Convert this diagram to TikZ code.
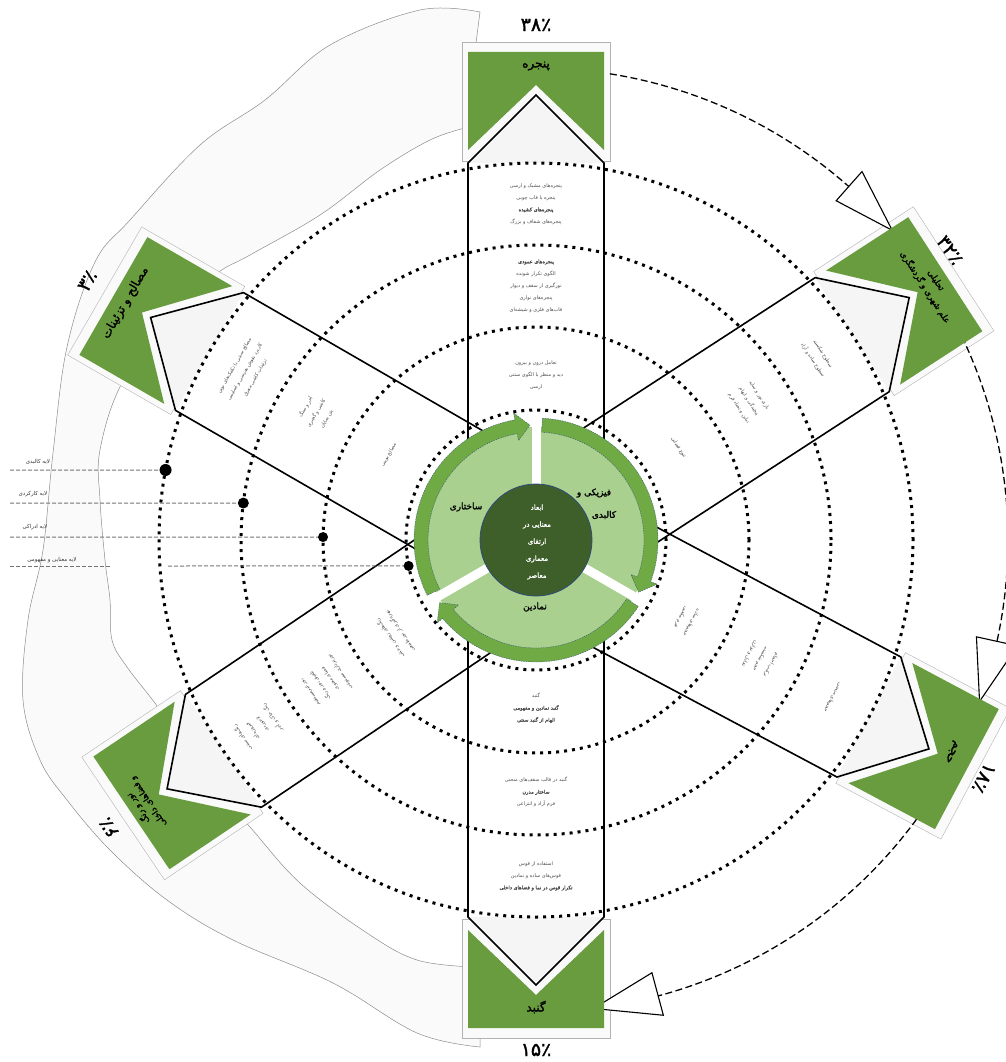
\documentclass[tikz,border=0pt]{standalone}
\usepackage{fontspec}
\newfontfamily\arabicfont[Script=Arabic]{DejaVu Sans}
\newfontfamily\arabicbold[Script=Arabic,FakeBold=1.6]{DejaVu Sans}
\TeXXeTstate=1
\newcommand\fa[1]{{\arabicfont\beginR #1\endR}}
\newcommand\fb[1]{{\arabicbold\beginR #1\endR}}
\usetikzlibrary{calc}
\definecolor{boxgreen}{HTML}{699B3F}
\definecolor{ringdark}{HTML}{6FAA45}
\definecolor{ringlight}{HTML}{A9D08E}
\definecolor{coregreen}{HTML}{3E5F2A}
\definecolor{bandgray}{HTML}{FAFAFA}
\definecolor{chevgray}{HTML}{F5F5F5}
\definecolor{navyline}{HTML}{2F4A7A}
\newcommand\segnode[5]{\node[segtext,rotate=#3] (#1) at ($(C)+(#2:#4)$) {#5};}
\begin{document}
\begin{tikzpicture}[x=1pt,y=1pt,
  armline/.style={line width=1.6pt,line join=miter},
  dotcirc/.style={line width=3pt,dash pattern=on 3pt off 5pt},
  bigdash/.style={line width=1.3pt,dash pattern=on 7pt off 3.5pt},
  hollowtip/.style={fill=white,draw=black,line width=1.1pt,line join=miter},
  backframe/.style={fill=bandgray,draw=black!30,line width=0.4pt},
  chev/.style={fill=chevgray},
  greenbox/.style={fill=boxgreen},
  segtext/.style={font=\arabicfont\fontsize{5}{12}\selectfont,text=black!70,align=center,inner sep=0pt},
  boxlabel/.style={font=\arabicbold\fontsize{12}{15}\selectfont,align=center,inner sep=0pt},
  pct/.style={font=\arabicbold\fontsize{19}{20}\selectfont,inner sep=0pt},
  ringlabel/.style={font=\arabicbold\fontsize{9}{11}\selectfont,inner sep=0pt},
  legendtext/.style={font=\arabicfont\fontsize{5.5}{7}\selectfont,inner sep=0pt,text=black!80},
  legendline/.style={black!55,line width=1pt,dash pattern=on 4pt off 2pt},
  blob/.style={fill=bandgray,draw=black!45,line width=0.5pt},
]
\useasboundingbox (0,0) rectangle (1005,-1062);
\coordinate (C) at (536,-540);

% light contour band on the left
\filldraw[blob] plot[smooth,tension=0.6] coordinates {(480,-12) (420,-10) (330,-45) (265,-100) (200,-145) (130,-220) (95,-262) (67,-347) (53,-453) (43,-550) (28,-620) (23,-700) (40,-760) (67,-800) (110,-850) (167,-900) (233,-940) (333,-983) (417,-1033) (480,-1047)}
  -- (480,-967) -- plot[smooth,tension=0.6] coordinates {(473,-967) (417,-960) (367,-933) (300,-883) (250,-827) (200,-770) (160,-710) (127,-667) (112,-640) (110,-600) (105,-560) (100,-500) (100,-450) (122,-383) (170,-320) (215,-275) (250,-255) (320,-215) (380,-170) (430,-140) (465,-128)} -- cycle;

% frames behind the green boxes and chevron fills
\foreach \a in {90,33,-28,270,214,150}{
  \begin{scope}[shift={(C)},rotate=\a]
    \filldraw[backframe] (379,-74) rectangle (498,74);
    \fill[chev] (377,-68) -- (445,0) -- (377,68) -- cycle;
  \end{scope}
}

% outer dashed cycle with hollow arrowheads
\draw[bigdash] ($(C)+(81:472)$) arc[start angle=81,end angle=48.5,radius=472];
\filldraw[hollowtip] ($(C)+(48.5:453)$) -- ($(C)+(48.5:492)$) -- ($(C)+(41:472)$) -- cycle;
\draw[bigdash] ($(C)+(25.5:472)$) arc[start angle=25.5,end angle=-12.4,radius=472];
\filldraw[hollowtip] ($(C)+(-12.4:451)$) -- ($(C)+(-12.4:493)$) -- ($(C)+(-20:472)$) -- cycle;
\draw[bigdash] ($(C)+(-35:472)$) arc[start angle=-35,end angle=-75,radius=472];
\filldraw[hollowtip] ($(C)+(-75:448)$) -- ($(C)+(-75:492)$) -- ($(C)+(-83:472)$) -- cycle;

% dotted circles
\foreach \r in {130,213,295,377}{\draw[dotcirc] (C) circle[radius=\r];}

% arms and green boxes
\foreach \a in {90,33,-28,270,214,150}{
  \begin{scope}[shift={(C)},rotate=\a]
    \draw[armline] (96,-68) -- (377,-68) -- (445,0) -- (377,68) -- (96,68);
    \fill[greenbox] (390,-68) -- (488,-68) -- (488,68) -- (390,68) -- (455,0) -- cycle;
  \end{scope}
}

% central ring
\fill[ringlight] (C) circle[radius=113];
\foreach \g in {90,-30,210}{\draw[white,line width=9pt] (C) -- ++(\g:126);}
\foreach \s/\e in {207/100,87/-20,-33/-140}{
  \pgfmathsetmacro\tip{\e-7}
  \filldraw[fill=ringdark,draw=navyline,line width=0.3pt,dash pattern=on 1.5pt off 1pt]
    ($(C)+(\s:122)$) arc[start angle=\s,end angle=\e,radius=122]
    -- ($(C)+(\e:129)$) -- ($(C)+(\tip:115)$) -- ($(C)+(\e:101)$) -- ($(C)+(\e:108)$)
    arc[start angle=\e,end angle=\s,radius=108] -- cycle;
}
\filldraw[fill=coregreen,draw=navyline,line width=0.8pt] (C) circle[radius=56];
\node[font=\arabicbold\fontsize{7}{17}\selectfont,text=white,align=center,inner sep=0pt] (core) at (537,-542)
  {\fb{ابعاد}\\\fb{معنایی در}\\\fb{ارتقای}\\\fb{معماری}\\\fb{معاصر}};
\node[ringlabel] (rl1) at (594,-493) {\fb{فیزیکی و}};
\node[ringlabel] (rl2) at (604,-515) {\fb{کالبدی}};
\node[ringlabel] (rl3) at (466,-507) {\fb{ساختاری}};
\node[ringlabel] (rl4) at (535,-607) {\fb{نمادین}};

% legend on the left
\coordinate (d1) at ($(C)+(169.3:377)$);
\coordinate (d2) at ($(C)+(172.8:295)$);
\coordinate (d3) at ($(C)+(179.2:213)$);
\coordinate (d4) at ($(C)+(191.5:130)$);
\coordinate (s1) at (10,-470);
\coordinate (s2) at (10,-503);
\coordinate (s3) at (10,-537);
\coordinate (s4) at (10,-566);
\coordinate (s4a) at (110,-566);
\coordinate (s4b) at (168,-566);
\draw[legendline] (s1) -- (d1);
\draw[legendline] (s2) -- (d2);
\draw[legendline] (s3) -- (d3);
\draw[legendline] (s4) -- (s4a);
\draw[legendline] (s4b) -- (d4);
\fill (d1) circle[radius=6];
\fill (d2) circle[radius=5.5];
\fill (d3) circle[radius=5];
\fill (d4) circle[radius=5];
\node[legendtext] (lg1) at (38,-462) {\fa{لایه کالبدی}};
\node[legendtext] (lg2) at (33,-494) {\fa{لایه کارکردی}};
\node[legendtext] (lg3) at (35,-527) {\fa{لایه ادراکی}};
\node[legendtext] (lg4) at (52,-560) {\fa{لایه معنایی و مفهومی}};

% green box labels
\node[boxlabel,rotate=0] (bx1) at ($(C)+(90:474)$) {\fb{پنجره}};
\node[boxlabel,rotate=-57,font=\arabicbold\fontsize{8.5}{13}\selectfont] (bx2) at ($(C)+(33:470)$) {\fb{تحلیلی}\\\fb{علم شهری و گردشگری}};
\node[boxlabel,rotate=-118] (bx3) at ($(C)+(-27:466)$) {\fb{حجم}};
\node[boxlabel,rotate=0] (bx4) at ($(C)+(270:467)$) {\fb{گنبد}};
\node[boxlabel,rotate=124,font=\arabicbold\fontsize{8.5}{12}\selectfont] (bx5) at ($(C)+(214:474)$) {\fb{نور و رنگ}\\\fb{و فضاهای داخلی}};
\node[boxlabel,rotate=60] (bx6) at ($(C)+(150:474)$) {\fb{مصالح و تزئینات}};

% percentages
\node[pct,rotate=0] (p1) at ($(C)+(90:515)$) {\arabicbold ۳۸٪};
\node[pct,rotate=-55] (p2) at ($(C)+(35:505)$) {\arabicbold ۳۲٪};
\node[pct,rotate=-118] (p3) at ($(C)+(-28:507)$) {\arabicbold ۱۸٪};
\node[pct,rotate=0] (p4) at ($(C)+(270:510)$) {\arabicbold ۱۵٪};
\node[pct,rotate=124] (p5) at ($(C)+(214:515)$) {\arabicbold ۶٪};
\node[pct,rotate=60] (p6) at ($(C)+(150:518)$) {\arabicbold ۳٪};

% texts in the arms
\segnode{t1}{90}{0}{336}{\fa{پنجره‌های مشبک و ارسی}\\\fa{پنجره با قاب چوبی}\\\fb{پنجره‌های کشیده}\\\fa{پنجره‌های شفاف و بزرگ}}
\segnode{t2}{90}{0}{254}{\fb{پنجره‌های عمودی}\\\fa{الگوی تکرار شونده}\\\fa{نورگیری از سقف و دیوار}\\\fa{پنجره‌های نواری}\\\fa{قاب‌های فلزی و شیشه‌ای}}
\segnode{t3}{90}{0}{165}{\fa{تعامل درون و بیرون}\\\fa{دید و منظر با الگوی سنتی}\\\fa{ارسی}}

\segnode{r1}{33}{-57}{336}{\fa{سطوح شکسته}\\\fa{سطوح ساده و آزاد}}
\segnode{r2}{33}{-57}{254}{\fa{بازی نور و سایه}\\\fa{پیچیدگی و ابهام}\\\fa{تباین و تضاد فرم}}
\segnode{r3}{33}{-57}{170}{\fa{تنوع فضایی}}

\segnode{q1}{-28}{-118}{170}{\fa{حجم‌های ساده}\\\fa{فرم مکعبی}}
\segnode{q2}{-28}{-118}{254}{\fa{ترکیب احجام}\\\fa{حجم شکسته}\\\fa{تعادل و توازن}}
\segnode{q3}{-28}{-118}{336}{\fa{حجم‌های منحنی}}

\segnode{b1}{270}{0}{168}{\fa{گنبد}\\\fb{گنبد نمادین و مفهومی}\\\fb{الهام از گنبد سنتی}}
\segnode{b2}{270}{0}{252}{\fa{گنبد در قالب سقف‌های منحنی}\\\fb{ساختار مدرن}\\\fa{فرم آزاد و انتزاعی}}
\segnode{b3}{270}{0}{336}{\fa{استفاده از قوس}\\\fa{قوس‌های ساده و نمادین}\\\fb{تکرار قوس در نما و فضاهای داخلی}}

\segnode{l1}{214}{124}{170}{\fa{رنگ‌های روشن و خنثی}\\\fa{بهره‌گیری از نور طبیعی}}
\segnode{l2}{214}{124}{254}{\fa{نور غیرمستقیم}\\\fa{تلفیق نور و رنگ}\\\fa{فضای معنوی}\\\fa{نورپردازی مصنوعی}}
\segnode{l3}{214}{124}{336}{\fa{رنگ‌های سنتی}\\\fa{فیروزه‌ای}\\\fa{لاجوردی}\\\fa{رنگ خاک و آجر}}

\segnode{m1}{150}{60}{170}{\fa{مصالح بومی}}
\segnode{m2}{150}{60}{254}{\fa{آجر و سنگ}\\\fa{کاشی و گچبری}\\\fa{بتن نمایان}}
\segnode{m3}{150}{60}{336}{\fa{مصالح سنتی با تکنیک‌های نوین}\\\fa{کاربرد نقوش هندسی و اسلیمی}\\\fa{تزئینات کاشی معرق}}
\end{tikzpicture}
\end{document}
